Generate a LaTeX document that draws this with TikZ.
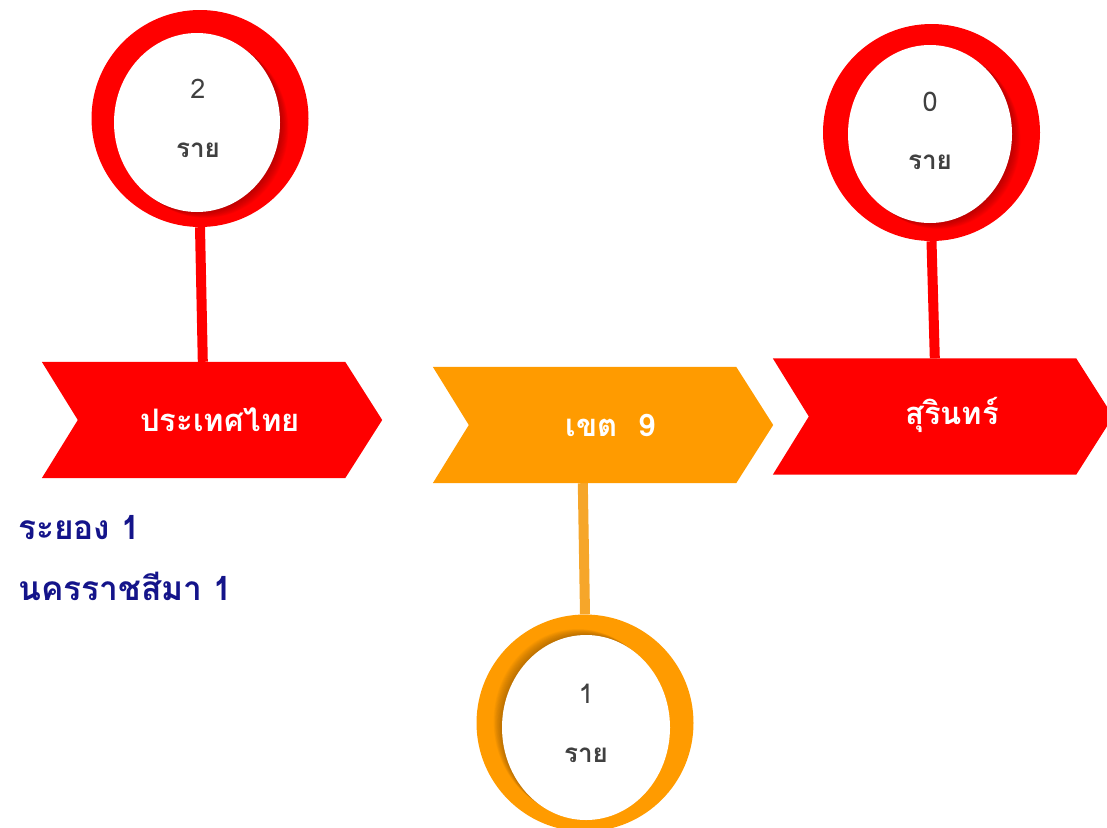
\documentclass[tikz,border=0pt]{standalone}
\usepackage{fontspec}
\newfontfamily\thai[Script=Thai]{Loma}
\usetikzlibrary{calc,backgrounds}
\definecolor{bred}{HTML}{FF0000}
\definecolor{borange}{HTML}{FF9B00}
\definecolor{stemorange}{HTML}{F6A62A}
\definecolor{txtgray}{HTML}{404040}
\definecolor{navy}{HTML}{14148A}
\tikzset{
  ring/.style={circle, inner sep=0pt, minimum size=217pt, fill=#1},
  banner/.style={rectangle, inner sep=0pt, minimum width=303pt, minimum height=116pt},
  bantext/.style={font=\thai\bfseries\fontsize{31}{36}\selectfont, text=white, inner sep=0pt},
  numtext/.style={font=\thai\fontsize{27}{32}\selectfont, text=txtgray, inner sep=0pt},
  unittext/.style={font=\thai\bfseries\fontsize{26}{32}\selectfont, text=txtgray, inner sep=0pt},
  stem/.style={line width=10pt, draw=#1},
  listtext/.style={font=\thai\bfseries\fontsize{33.5}{38}\selectfont, text=navy, anchor=west, inner sep=0pt},
}
\newcommand\chevron[2]{\fill[#2] (#1.north west) -- (#1.north east) -- ($(#1.east)+(37,0)$) -- (#1.south east) -- (#1.south west) -- ($(#1.west)+(36,0)$) -- cycle;}
\begin{document}
\begin{tikzpicture}[x=1pt,y=-1pt]
\useasboundingbox (0,0) rectangle (1107,827);
% banners (shape holders)
\node[banner] (b1) at (193.5,420) {};
\node[banner] (b2) at (584.5,425) {};
\node[banner] (b3) at (924.5,416.5) {};
% rings
\node[ring=bred] (c1) at (200,118.5) {};
\node[ring=bred] (c3) at (931.5,132.5) {};
\node[ring=borange] (c2) at (585,723) {};
\coordinate (i1) at (197,122.5);
\coordinate (i3) at (930,134);
\coordinate (i2) at (586,727.5);
% shadows
\begin{scope}
  \clip (c1.center) circle[radius=108.5];
  \foreach \i in {1,...,12} \fill[bred!50!black, opacity=0.05] ($(i1)+(\i*0.7,\i*0.5)$) ellipse[x radius=83, y radius=89.5];
\end{scope}
\begin{scope}
  \clip (c3.center) circle[radius=108.5];
  \foreach \i in {1,...,12} \fill[bred!50!black, opacity=0.05] ($(i3)+(\i*0.7,\i*0.5)$) ellipse[x radius=82, y radius=89];
\end{scope}
\begin{scope}
  \clip (c2.center) circle[radius=108.5];
  \foreach \i in {1,...,12} \fill[borange!50!black, opacity=0.05] ($(i2)+(-\i*0.7,-\i*0.5)$) ellipse[x radius=84, y radius=92.5];
\end{scope}
\fill[white] (i1) ellipse[x radius=83, y radius=89.5];
\fill[white] (i3) ellipse[x radius=82, y radius=89];
\fill[white] (i2) ellipse[x radius=84, y radius=92.5];
% stems and chevrons behind
\begin{pgfonlayer}{background}
  \draw[stem=bred] (c1.south) -- ($(b1.north west)+(161,0)$);
  \draw[stem=bred] (c3.south) -- ($(b3.north west)+(162,0)$);
  \draw[stem=stemorange] ($(b2.south west)+(150,0)$) -- (c2.north);
\end{pgfonlayer}
\chevron{b1}{bred}
\chevron{b2}{borange}
\chevron{b3}{bred}
% texts
\node[bantext] (t1) at (220,420) {ประเทศไทย};
\node[bantext] (t2) at (611,425) {เขต\ \ 9};
\node[bantext] (t3) at (952,415) {สุรินทร์};
\node[numtext] (n1) at (198,89) {2};
\node[unittext] (r1) at (198,150) {ราย};
\node[numtext] (n3) at (930,102) {0};
\node[unittext] (r3) at (930,162) {ราย};
\node[numtext] (n2) at (586,694) {1};
\node[unittext] (r2) at (586,755) {ราย};
\node[listtext] (l1) at (18,528) {ระยอง 1};
\node[listtext] (l2) at (18,586) {นครราชสีมา 1};
\end{tikzpicture}
\end{document}
